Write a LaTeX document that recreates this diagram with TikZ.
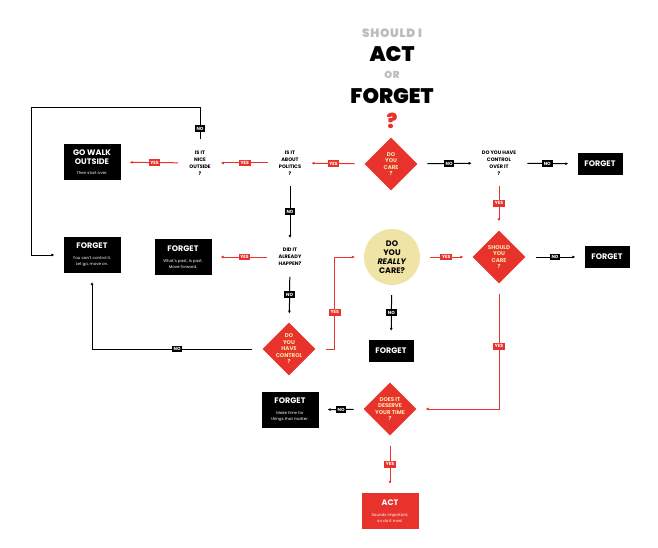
\documentclass[tikz,border=0pt]{standalone}
\usepackage{fontspec}
\setmainfont{Poppins}
\newfontfamily\heavy{Poppins Black}
\newfontfamily\heavywide{Poppins Black}[LetterSpace=6]
\usetikzlibrary{arrows.meta,positioning,shapes.geometric,calc}
\definecolor{alarm}{HTML}{E8322C}
\definecolor{cream}{HTML}{F6E7A8}
\definecolor{pale}{HTML}{EFE4A6}
\definecolor{mist}{HTML}{BDBDBD}
\newcommand{\blurb}[1]{{\fontsize{4}{5}\selectfont\mdseries #1}}
\tikzset{
  block/.style={fill=black, text=white, align=center, inner sep=2pt, font=\bfseries\fontsize{8}{9}\selectfont},
  verdict/.style={block, minimum width=57pt, minimum height=36pt},
  short/.style={block, minimum width=45pt, minimum height=22pt},
  act/.style={verdict, fill=alarm},
  question/.style={align=center, inner sep=1pt, font=\bfseries\fontsize{5}{7}\selectfont},
  choice/.style={diamond, shape aspect=1, fill=alarm, text=cream, align=center, minimum size=53pt, inner sep=-3pt, font=\bfseries\fontsize{5.5}{6.5}\selectfont},
  really/.style={circle, fill=pale, align=center, minimum size=56pt, inner sep=0pt, font=\bfseries\fontsize{8}{9}\selectfont},
  yes/.style={fill=alarm, text=white, inner sep=1.8pt, font=\bfseries\fontsize{4.5}{4.5}\selectfont},
  no/.style={yes, fill=black},
  arrow/.style={-{Latex[length=3pt,width=3pt]}, line width=1pt, shorten <=10pt, shorten >=9pt},
  redarrow/.style={arrow, draw=alarm}
}

\begin{document}
\begin{tikzpicture}[x=1pt, y=-1pt]
  \useasboundingbox[fill=white] (0,0) rectangle (658,548);
  % title
  \node[text=mist, font=\heavywide\fontsize{12}{12}\selectfont] (ask) at (392,33) {SHOULD I};
  \node[font=\heavy\fontsize{21}{21}\selectfont] (actword) at (392,54) {ACT};
  \node[text=mist, font=\heavywide\fontsize{10}{10}\selectfont] (orword) at (392,75) {OR};
  \node[font=\heavy\fontsize{21}{21}\selectfont] (forgetword) at (392,96) {FORGET};
  \node[text=alarm, font=\heavy\fontsize{20}{20}\selectfont] (mark) at (392,121) {?};
  % questions
  \node[choice] (care) at (391,164) {DO\\YOU\\CARE\\?};
  \node[question] (politics) at (290,163) {IS IT\\ABOUT\\POLITICS\\?};
  \node[question] (nice) at (200,163) {IS IT\\NICE\\OUTSIDE\\?};
  \node[question] (happen) at (290,257) {DID IT\\ALREADY\\HAPPEN?};
  \node[question] (over) at (499,163) {DO YOU HAVE\\CONTROL\\OVER IT\\?};
  \node[choice] (control) at (289,349) {DO\\YOU\\HAVE\\CONTROL\\?};
  \node[really] (really) at (392,257) {DO\\YOU\\\textit{REALLY}\\CARE?};
  \node[choice] (should) at (499,257) {SHOULD\\YOU\\CARE\\?};
  \node[choice] (deserve) at (390,409) {DOES IT\\DESERVE\\YOUR TIME\\?};
  % answers
  \node[verdict] (walk) at (92,162) {GO WALK\\OUTSIDE\\[1pt]\blurb{Then start over.}};
  \node[verdict] (letgo) at (92,255) {FORGET\\[2pt]\blurb{You can't control it.}\\[-3pt]\blurb{Let go, move on.}};
  \node[verdict] (past) at (183,257) {FORGET\\[2pt]\blurb{What's past, is past.}\\[-3pt]\blurb{Move forward.}};
  \node[short] (forgetA) at (600,164) {FORGET};
  \node[short] (forgetB) at (607,257) {FORGET};
  \node[short] (forgetC) at (391,351) {FORGET};
  \node[verdict] (make) at (290,410) {FORGET\\[2pt]\blurb{Make time for}\\[-3pt]\blurb{things that matter.}};
  \node[act] (act) at (390,511) {ACT\\[2pt]\blurb{Sounds important,}\\[-3pt]\blurb{so do it now!}};
  \coordinate (loop) at (31,108);
  % connectors
  \draw[redarrow] (care) -- node[yes] {YES} (politics);
  \draw[redarrow] (politics) -- node[yes] {YES} (nice);
  \draw[redarrow] (nice) -- node[yes] {YES} (walk);
  \draw[arrow] (nice.north) |- node[no, pos=0.25] {NO} (loop) |- (letgo.west);
  \draw[arrow] (politics) -- node[no] {NO} (happen);
  \draw[redarrow] (happen) -- node[yes] {YES} (past);
  \draw[arrow] (happen) -- node[no] {NO} (control);
  \draw[arrow] (control.west) -| node[no, pos=0.25] {NO} (letgo.south);
  \draw[redarrow] (control.east) -- ++(19,0) |- node[yes, pos=0.2] {YES} (really.west);
  \draw[arrow] (care) -- node[no] {NO} (over);
  \draw[arrow] (over) -- node[no] {NO} (forgetA);
  \draw[redarrow] (over) -- node[yes] {YES} (should);
  \draw[redarrow] (really) -- node[yes] {YES} (should);
  \draw[arrow] (should) -- node[no] {NO} (forgetB);
  \draw[arrow] (really) -- node[no] {NO} (forgetC);
  \draw[redarrow] (should.south) |- node[yes, pos=0.25] {YES} (deserve.east);
  \draw[arrow] (deserve) -- node[no] {NO} (make);
  \draw[redarrow] (deserve) -- node[yes] {YES} (act);
\end{tikzpicture}
\end{document}
